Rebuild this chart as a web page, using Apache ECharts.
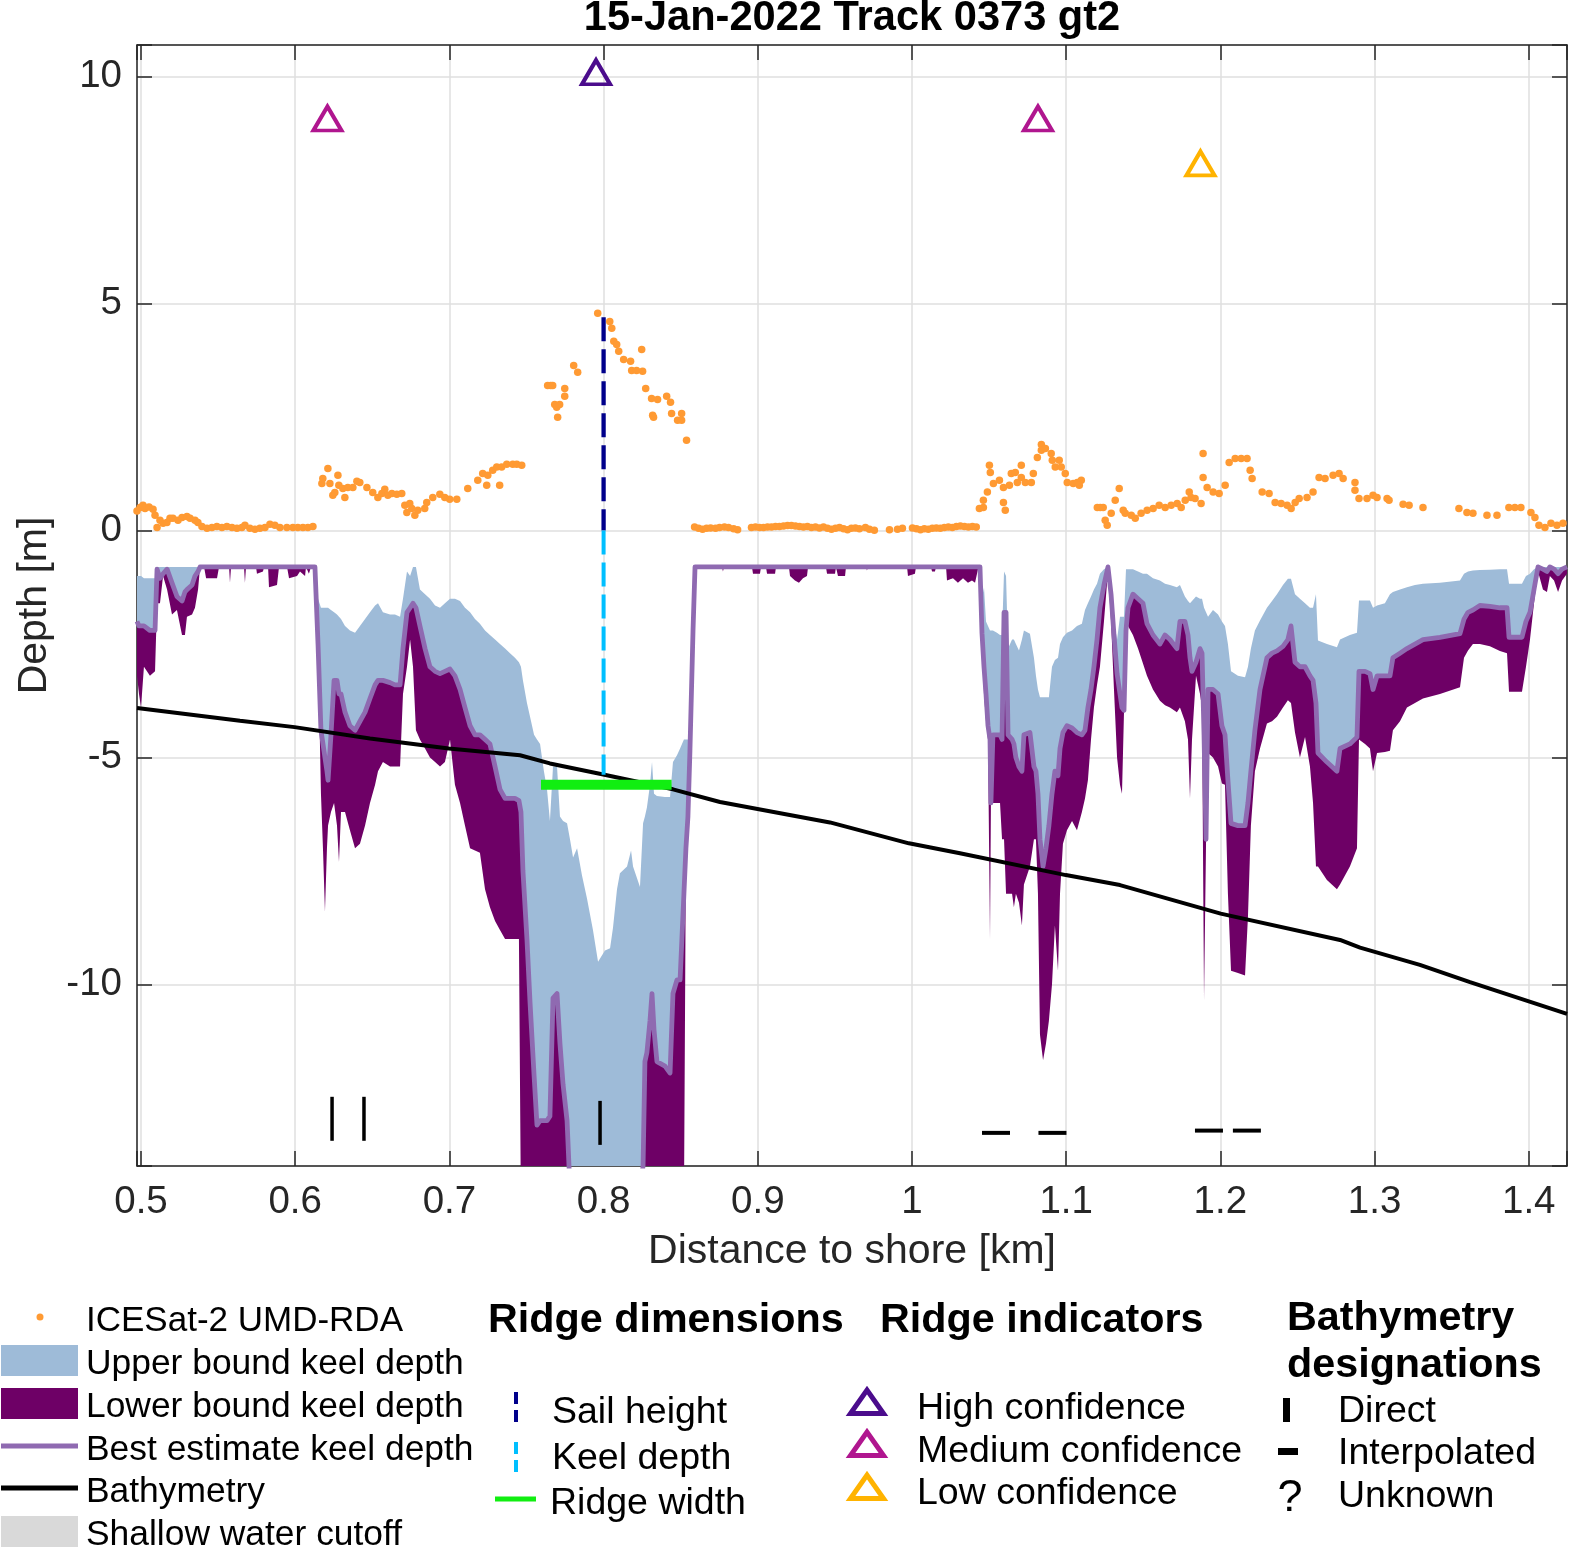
<!DOCTYPE html>
<html><head><meta charset="utf-8">
<script src="https://cdn.jsdelivr.net/npm/echarts/dist/echarts.min.js"></script>
<style>html,body{margin:0;padding:0;background:#fff}#c{width:1573px;height:1548px}</style>
</head><body><div id="c"></div>
<script>
// ---------------- DATA ----------------
const chartTitle = '15-Jan-2022 Track 0373 gt2';
const xRange = [0.4974, 1.4248];
const yRange = [-14, 10.7];

// ICESat-2 UMD-RDA surface heights [distance km, height m]
const surfacePoints = [
[0.4974,0.43],[0.4994,0.51],[0.5013,0.56],[0.5026,0.49],[0.5052,0.52],[0.5078,0.47],[0.5091,0.34],[0.5104,0.07],[0.5123,0.23],[0.5143,0.16],
[0.5168,0.18],[0.5188,0.27],[0.5207,0.27],[0.5240,0.23],[0.5266,0.29],[0.5298,0.31],[0.5318,0.27],[0.5350,0.23],[0.5369,0.18],[0.5395,0.09],
[0.5428,0.05],[0.5460,0.07],[0.5492,0.09],[0.5525,0.07],[0.5557,0.09],[0.5590,0.07],[0.5622,0.05],[0.5654,0.07],[0.5674,0.12],[0.5706,0.05],
[0.5739,0.03],[0.5771,0.05],[0.5804,0.07],[0.5836,0.14],[0.5868,0.12],[0.5901,0.07],[0.5946,0.07],[0.5985,0.07],[0.6017,0.07],[0.6050,0.07],
[0.6082,0.07],[0.6115,0.09],
[0.6173,1.04],[0.6179,1.15],[0.6212,1.37],[0.6225,1.04],[0.6244,0.78],[0.6257,0.84],[0.6277,1.22],[0.6283,1.00],[0.6309,0.93],[0.6322,0.73],
[0.6341,0.95],[0.6374,0.95],[0.6400,1.09],[0.6419,1.06],[0.6465,0.95],[0.6503,0.84],[0.6536,0.73],[0.6562,0.82],[0.6581,0.91],[0.6601,0.78],
[0.6627,0.82],[0.6659,0.80],[0.6691,0.82],[0.6711,0.56],[0.6724,0.40],[0.6743,0.60],[0.6756,0.49],[0.6776,0.34],[0.6795,0.45],[0.6840,0.49],
[0.6853,0.62],[0.6892,0.73],[0.6938,0.80],[0.6970,0.73],[0.7002,0.69],[0.7048,0.69],[0.7119,0.93],[0.7184,1.11],[0.7216,1.26],[0.7242,1.00],
[0.7249,1.22],[0.7281,1.33],[0.7307,1.40],[0.7326,1.00],[0.7339,1.40],[0.7372,1.46],[0.7411,1.46],[0.7437,1.46],[0.7469,1.44],
[0.7637,3.20],[0.7657,3.20],[0.7670,3.20],[0.7683,2.78],[0.7696,2.72],[0.7702,2.50],[0.7715,2.78],[0.7748,3.13],[0.7748,2.96],[0.7806,3.64],
[0.7832,3.49],[0.7962,4.79],[0.8040,4.61],[0.8053,4.46],[0.8066,4.17],[0.8085,4.10],[0.8098,3.95],[0.8130,3.77],[0.8175,3.73],[0.8182,3.53],
[0.8214,3.53],[0.8247,3.99],[0.8253,3.51],[0.8273,3.13],[0.8311,2.91],[0.8318,2.54],[0.8324,2.50],[0.8350,2.89],[0.8409,2.96],[0.8434,2.83],
[0.8441,2.58],[0.8480,2.43],[0.8506,2.58],[0.8506,2.43],[0.8538,1.99],
[0.8590,0.08],[0.8616,0.05],[0.8642,0.03],[0.8668,0.05],[0.8694,0.06],[0.8726,0.05],[0.8752,0.07],[0.8784,0.08],[0.8810,0.07],[0.8843,0.04],
[0.8869,0.02],[0.8959,0.07],[0.8985,0.08],[0.9011,0.07],[0.9037,0.07],[0.9063,0.08],[0.9089,0.08],[0.9115,0.09],[0.9141,0.09],[0.9167,0.10],
[0.9193,0.11],[0.9218,0.11],[0.9244,0.10],[0.9270,0.09],[0.9296,0.08],[0.9322,0.09],[0.9348,0.07],[0.9374,0.08],[0.9400,0.06],[0.9426,0.08],
[0.9452,0.05],[0.9478,0.03],[0.9504,0.05],[0.9530,0.07],[0.9556,0.04],[0.9582,0.02],[0.9607,0.05],[0.9633,0.06],[0.9659,0.04],[0.9698,0.07],
[0.9724,0.03],[0.9756,0.01],[0.9854,0.02],[0.9906,0.03],[0.9938,0.05],[1.0003,0.06],[1.0029,0.04],[1.0055,0.02],[1.0080,0.04],[1.0106,0.03],
[1.0132,0.05],[1.0158,0.06],[1.0184,0.05],[1.0210,0.07],[1.0236,0.08],[1.0262,0.07],[1.0288,0.09],[1.0314,0.10],[1.0340,0.09],[1.0366,0.08],
[1.0392,0.09],[1.0417,0.08],
[1.0437,0.49],[1.0463,0.51],[1.0463,0.67],[1.0489,0.85],[1.0502,1.44],[1.0508,1.28],[1.0528,1.04],[1.0567,1.11],[1.0593,0.62],[1.0605,0.45],
[1.0593,0.95],[1.0632,1.00],[1.0644,1.26],[1.0670,1.28],[1.0683,1.06],[1.0709,1.44],[1.0709,1.17],[1.0735,1.06],[1.0774,1.06],[1.0787,1.26],
[1.0813,1.61],[1.0839,1.90],[1.0839,1.77],[1.0865,1.81],[1.0903,1.70],[1.0910,1.55],[1.0929,1.40],[1.0955,1.55],[1.0968,1.40],[1.0994,1.26],
[1.1007,1.06],[1.1046,1.04],[1.1072,1.06],[1.1098,1.11],[1.1085,1.00],
[1.1202,0.51],[1.1221,0.51],[1.1240,0.51],[1.1253,0.23],[1.1266,0.12],[1.1292,0.38],[1.1318,0.67],[1.1344,0.93],[1.1370,0.45],[1.1383,0.38],
[1.1422,0.34],[1.1448,0.27],[1.1486,0.38],[1.1525,0.45],[1.1564,0.49],[1.1603,0.56],[1.1642,0.51],[1.1681,0.56],[1.1720,0.60],[1.1746,0.51],
[1.1772,0.67],[1.1798,0.85],[1.1810,0.73],[1.1836,0.71],[1.1875,0.60],[1.1888,1.17],[1.1888,1.70],[1.1914,0.95],[1.1953,0.85],[1.1992,0.82],
[1.2031,1.00],[1.2057,1.50],[1.2096,1.59],[1.2135,1.59],[1.2173,1.59],[1.2193,1.33],[1.2206,1.15],[1.2271,0.85],[1.2316,0.82],[1.2355,0.62],
[1.2394,0.60],[1.2433,0.56],[1.2459,0.49],[1.2485,0.62],[1.2511,0.71],[1.2562,0.73],[1.2601,0.85],[1.2640,1.17],[1.2679,1.15],[1.2731,1.22],
[1.2770,1.26],[1.2796,1.15],[1.2873,1.06],[1.2873,0.89],[1.2899,0.71],[1.2951,0.71],[1.2990,0.78],[1.3016,0.73],[1.3081,0.71],[1.3094,0.67],
[1.3185,0.58],[1.3224,0.56],[1.3314,0.51],[1.3547,0.49],[1.3599,0.40],[1.3638,0.38],[1.3729,0.34],[1.3794,0.34],[1.3871,0.51],[1.3910,0.51],
[1.3949,0.51],[1.4014,0.40],[1.4040,0.29],[1.4066,0.12],[1.4105,0.07],[1.4144,0.16],[1.4183,0.12],[1.4222,0.16]
];

// Keel depth profile: [distance km, upper bound (shallow edge), best estimate, lower bound (deep edge)] in m
const keelProfile = [
[0.4974,-1.0,-2.0,-3.2],[0.4987,-1.0,-2.1,-3.6],[0.5000,-1.0,-2.1,-3.9],[0.5019,-1.05,-2.1,-3.0],[0.5058,-1.05,-2.2,-3.2],
[0.5091,-1.05,-2.2,-3.1],[0.5104,-0.8,-0.85,-1.6],[0.5123,-0.8,-1.05,-1.6],[0.5143,-0.8,-0.95,-1.0],[0.5169,-0.8,-0.85,-1.3],
[0.5201,-0.8,-1.15,-1.85],[0.5233,-0.8,-1.45,-1.75],[0.5266,-0.8,-1.55,-2.3],[0.5285,-0.8,-1.35,-2.3],[0.5298,-0.8,-1.3,-1.9],
[0.5331,-0.8,-1.2,-1.85],[0.5350,-0.8,-1.0,-1.7],[0.5370,-0.8,-0.9,-1.3],[0.5383,-0.8,-0.8,-0.8],[0.5409,-0.8,-0.8,-0.8],
[0.5422,-0.8,-0.8,-1.05],[0.5493,-0.8,-0.8,-1.05],[0.5506,-0.8,-0.8,-0.8],[0.5571,-0.8,-0.8,-0.8],[0.5577,-0.8,-0.8,-1.15],
[0.5584,-0.8,-0.8,-0.8],[0.5668,-0.8,-0.8,-0.8],[0.5674,-0.8,-0.8,-1.15],[0.5681,-0.8,-0.8,-0.8],[0.5746,-0.8,-0.8,-0.8],
[0.5752,-0.8,-0.8,-0.95],[0.5791,-0.8,-0.8,-0.9],[0.5798,-0.8,-0.8,-0.8],[0.5824,-0.8,-0.8,-0.8],[0.5830,-0.8,-0.8,-1.25],
[0.5882,-0.8,-0.8,-1.2],[0.5895,-0.8,-0.8,-0.8],[0.5947,-0.8,-0.8,-0.8],[0.5960,-0.8,-0.8,-1.05],[0.6012,-0.8,-0.8,-1.0],
[0.6031,-0.8,-0.8,-0.9],[0.6064,-0.8,-0.8,-1.0],[0.6070,-0.8,-0.8,-0.8],[0.6089,-0.8,-0.8,-0.95],[0.6102,-0.8,-0.8,-0.8],
[0.6128,-0.8,-0.8,-0.8],
[0.6148,-1.5,-2.5,-2.6],[0.6167,-1.7,-4.4,-5.8],[0.6180,-1.7,-4.7,-7.0],[0.6193,-1.7,-5.0,-8.4],[0.6206,-1.7,-5.3,-7.0],
[0.6213,-1.7,-5.5,-6.5],[0.6232,-1.75,-4.5,-6.2],[0.6252,-1.8,-3.3,-6.0],[0.6271,-1.85,-3.3,-6.5],[0.6284,-1.9,-3.6,-7.3],
[0.6297,-1.95,-3.6,-6.2],[0.6323,-2.1,-4.0,-6.2],[0.6355,-2.2,-4.3,-6.6],[0.6388,-2.25,-4.4,-7.0],[0.6420,-2.1,-4.2,-6.9],
[0.6453,-1.95,-4.0,-6.5],[0.6485,-1.8,-3.7,-6.0],[0.6518,-1.65,-3.4,-5.6],[0.6537,-1.6,-3.3,-5.3],[0.6569,-1.8,-3.3,-5.1],
[0.6615,-1.85,-3.35,-5.2],[0.6647,-1.85,-3.4,-5.2],[0.6680,-1.9,-3.4,-5.2],[0.6699,-1.5,-2.6,-3.6],[0.6725,-0.9,-1.8,-3.0],
[0.6745,-1.0,-1.7,-2.4],[0.6764,-0.8,-1.6,-3.0],[0.6783,-0.8,-1.7,-4.4],[0.6809,-1.3,-2.1,-4.6],[0.6842,-1.4,-2.6,-4.8],
[0.6874,-1.5,-3.0,-5.0],[0.6907,-1.65,-3.1,-5.1],[0.6939,-1.7,-3.15,-5.2],[0.6971,-1.6,-3.1,-5.1],[0.7004,-1.5,-3.05,-4.6],
[0.7036,-1.5,-3.2,-5.6],[0.7069,-1.55,-3.5,-6.0],[0.7101,-1.7,-3.9,-6.5],[0.7134,-1.8,-4.3,-7.0],[0.7166,-1.95,-4.5,-7.05],
[0.7198,-2.05,-4.5,-7.1],[0.7231,-2.2,-4.6,-7.9],[0.7263,-2.3,-4.7,-8.3],[0.7296,-2.4,-5.2,-8.6],[0.7328,-2.5,-5.7,-8.8],
[0.7361,-2.6,-5.9,-9.0],[0.7393,-2.7,-5.9,-9.0],[0.7425,-2.8,-5.9,-9.0],[0.7451,-2.9,-5.95,-9.0],[0.7464,-3.0,-6.2,-15],
[0.7477,-3.3,-7.5,-15],[0.7503,-3.8,-9.0,-15],[0.7523,-4.1,-10.4,-15],[0.7549,-4.5,-12.0,-15],[0.7568,-4.6,-13.1,-15],
[0.7588,-4.7,-13.0,-15],[0.7613,-5.3,-13.0,-15],[0.7633,-5.7,-13.0,-15],[0.7652,-6.4,-12.9,-15],[0.7672,-5.2,-10.3,-15],
[0.7698,-5.2,-10.2,-15],[0.7717,-6.3,-11.3,-15],[0.7737,-6.4,-12.2,-15],[0.7763,-6.45,-13.0,-15],[0.7782,-6.8,-14.5,-15],
[0.7802,-7.2,-14.5,-15],[0.7828,-7.0,-14.5,-15],[0.7860,-7.6,-14.5,-15],[0.7892,-8.1,-14.5,-15],[0.7931,-8.8,-14.5,-15],
[0.7964,-9.5,-14.5,-15],[0.8009,-9.25,-14.5,-15],[0.8042,-9.2,-14.5,-15],[0.8061,-8.75,-14.5,-15],[0.8087,-7.9,-14.5,-15],
[0.8106,-7.55,-14.5,-15],[0.8152,-7.4,-14.5,-15],[0.8178,-7.05,-14.5,-15],[0.8191,-7.4,-14.5,-15],[0.8236,-7.85,-14.5,-15],
[0.8256,-6.45,-14.0,-15],[0.8268,-6.3,-11.7,-15],[0.8281,-6.1,-11.5,-15],[0.8301,-5.6,-10.8,-15],[0.8314,-5.1,-10.2,-15],
[0.8327,-5.8,-11.0,-15],[0.8346,-5.85,-11.7,-15],[0.8398,-5.87,-11.8,-15],[0.8431,-5.87,-11.95,-15],[0.8450,-5.1,-10.2,-15],
[0.8476,-4.95,-9.9,-15],[0.8496,-4.8,-9.9,-15],[0.8521,-4.6,-8.0,-15],[0.8534,-4.6,-7.0,-7.0],[0.8547,-4.6,-6.3,-6.3],
[0.8560,-4.6,-4.85,-4.85],[0.8580,-2.2,-2.2,-2.2],[0.8593,-0.8,-0.8,-0.8],
[0.8768,-0.8,-0.8,-0.8],[0.8774,-0.8,-0.8,-0.9],[0.8781,-0.8,-0.8,-0.8],[0.8962,-0.8,-0.8,-0.8],[0.8969,-0.8,-0.8,-0.95],
[0.9014,-0.8,-0.8,-0.95],[0.9021,-0.8,-0.8,-0.8],[0.9053,-0.8,-0.8,-0.8],[0.9060,-0.8,-0.8,-0.95],[0.9112,-0.8,-0.8,-0.95],
[0.9118,-0.8,-0.8,-0.8],[0.9202,-0.8,-0.8,-0.8],[0.9209,-0.8,-0.8,-1.0],[0.9241,-0.8,-0.8,-1.1],[0.9267,-0.8,-0.8,-1.15],
[0.9293,-0.8,-0.8,-1.05],[0.9319,-0.8,-0.8,-1.0],[0.9326,-0.8,-0.8,-0.8],[0.9442,-0.8,-0.8,-0.8],[0.9449,-0.8,-0.8,-0.95],
[0.9501,-0.8,-0.8,-0.95],[0.9507,-0.8,-0.8,-0.8],[0.9520,-0.8,-0.8,-1.0],[0.9566,-0.8,-0.8,-1.0],[0.9572,-0.8,-0.8,-0.8],
[0.9702,-0.8,-0.8,-0.8],[0.9708,-0.8,-0.8,-0.88],[0.9715,-0.8,-0.8,-0.8],[0.9968,-0.8,-0.8,-0.8],[0.9974,-0.8,-0.8,-1.0],
[1.0019,-0.8,-0.8,-0.95],[1.0026,-0.8,-0.8,-0.8],[1.0123,-0.8,-0.8,-0.8],[1.0130,-0.8,-0.8,-0.9],[1.0149,-0.8,-0.8,-0.9],
[1.0156,-0.8,-0.8,-0.8],[1.0221,-0.8,-0.8,-0.8],[1.0227,-0.8,-0.8,-1.1],[1.0266,-0.8,-0.8,-1.05],[1.0298,-0.8,-0.8,-1.15],
[1.0331,-0.8,-0.8,-1.05],[1.0363,-0.8,-0.8,-1.15],[1.0389,-0.8,-0.8,-1.1],[1.0409,-0.8,-0.8,-1.15],[1.0428,-0.8,-0.8,-0.85],
[1.0441,-0.8,-0.8,-0.8],
[1.0454,-1.5,-2.26,-2.3],[1.0467,-1.25,-3.0,-3.6],[1.0480,-2.0,-3.6,-4.2],[1.0493,-2.1,-4.3,-4.6],[1.0506,-2.2,-4.6,-9.0],
[1.0512,-2.2,-6.0,-6.0],[1.0525,-2.2,-4.5,-6.0],[1.0551,-2.25,-4.5,-6.0],[1.0571,-2.3,-4.5,-6.0],[1.0584,-2.3,-4.6,-6.8],
[1.0597,-0.9,-1.8,-6.8],[1.0610,-1.0,-1.8,-8.0],[1.0623,-2.6,-4.5,-8.0],[1.0649,-2.4,-4.6,-8.0],[1.0661,-2.4,-4.7,-8.3],
[1.0674,-2.5,-5.0,-8.0],[1.0694,-2.64,-5.2,-8.2],[1.0713,-2.4,-5.3,-8.7],[1.0726,-2.2,-4.5,-7.8],[1.0765,-2.27,-4.45,-7.4],
[1.0791,-2.8,-5.2,-6.8],[1.0804,-3.2,-5.3,-6.8],[1.0817,-3.5,-5.8,-8.0],[1.0830,-3.67,-6.8,-11.1],[1.0850,-3.67,-7.4,-11.67],
[1.0869,-3.67,-7.0,-11.3],[1.0888,-3.67,-6.5,-10.8],[1.0908,-3.0,-5.8,-10.0],[1.0927,-2.85,-5.3,-8.7],[1.0947,-2.8,-5.4,-9.7],
[1.0960,-2.5,-4.8,-8.0],[1.0979,-2.35,-4.45,-6.9],[1.1005,-2.25,-4.3,-6.6],[1.1038,-2.2,-4.35,-6.4],[1.1070,-2.1,-4.45,-6.6],
[1.1102,-2.05,-4.5,-6.2],[1.1122,-1.75,-4.4,-5.9],[1.1141,-1.6,-3.9,-5.5],[1.1161,-1.45,-3.5,-4.6],[1.1180,-1.3,-3.0,-3.9],
[1.1200,-1.17,-2.4,-3.4],[1.1219,-0.95,-1.7,-3.0],[1.1245,-0.85,-1.2,-2.0],[1.1271,-0.8,-0.8,-0.9],[1.1291,-1.3,-1.4,-2.0],
[1.1310,-2.0,-2.3,-3.5],[1.1330,-2.4,-3.15,-5.0],[1.1349,-1.9,-3.6,-5.6],[1.1362,-1.9,-3.9,-5.8],[1.1375,-1.9,-3.96,-4.0],
[1.1388,-0.85,-2.2,-2.3],[1.1401,-0.85,-1.7,-2.1],[1.1433,-0.85,-1.4,-2.3],[1.1466,-0.9,-1.5,-2.6],[1.1498,-0.95,-1.6,-2.93],
[1.1524,-0.95,-2.05,-3.2],[1.1563,-1.05,-2.3,-3.5],[1.1608,-1.1,-2.5,-3.75],[1.1641,-1.17,-2.3,-3.85],[1.1673,-1.2,-2.4,-3.9],
[1.1718,-1.25,-2.6,-4.0],[1.1738,-1.2,-2.0,-3.9],[1.1770,-1.45,-2.0,-4.2],[1.1790,-1.55,-2.3,-4.6],[1.1803,-1.6,-2.8,-5.9],
[1.1816,-1.55,-3.1,-4.6],[1.1842,-1.45,-2.9,-3.2],[1.1868,-1.5,-2.6,-3.6],[1.1881,-1.5,-2.7,-3.9],[1.1894,-1.7,-4.5,-10.35],
[1.1907,-1.8,-6.8,-6.9],[1.1920,-1.9,-3.5,-4.9],[1.1952,-1.75,-3.5,-5.0],[1.1985,-1.85,-3.6,-5.2],[1.2010,-2.0,-4.3,-5.57],
[1.2030,-2.1,-4.5,-5.6],[1.2049,-2.5,-5.5,-8.0],[1.2069,-3.1,-6.45,-9.7],[1.2114,-3.2,-6.5,-9.75],[1.2160,-3.23,-6.5,-9.8],
[1.2179,-3.0,-6.0,-8.5],[1.2198,-2.6,-5.3,-6.5],[1.2224,-2.2,-4.4,-5.3],[1.2257,-1.98,-3.5,-4.8],[1.2302,-1.7,-2.8,-4.25],
[1.2335,-1.55,-2.7,-4.2],[1.2367,-1.4,-2.65,-4.1],[1.2406,-1.2,-2.55,-3.9],[1.2438,-1.06,-2.4,-3.74],[1.2458,-1.06,-2.1,-3.8],
[1.2484,-1.4,-2.9,-4.45],[1.2516,-1.5,-3.0,-5.0],[1.2549,-1.6,-3.0,-4.55],[1.2581,-1.7,-3.2,-5.2],[1.2601,-1.7,-3.3,-6.0],
[1.2620,-1.4,-3.8,-7.4],[1.2633,-2.42,-4.9,-7.4],[1.2691,-2.5,-5.1,-7.7],[1.2756,-2.57,-5.3,-7.9],[1.2776,-2.4,-4.8,-7.8],
[1.2840,-2.3,-4.7,-7.4],[1.2886,-2.25,-4.55,-7.0],[1.2899,-1.54,-3.1,-4.6],[1.2938,-1.54,-3.1,-4.7],[1.2970,-1.54,-3.15,-4.8],
[1.2990,-1.7,-3.5,-5.3],[1.3016,-1.65,-3.2,-4.9],[1.3067,-1.6,-3.2,-4.88],[1.3100,-1.4,-3.2,-4.85],[1.3119,-1.35,-2.8,-4.4],
[1.3165,-1.3,-2.7,-4.2],[1.3210,-1.25,-2.6,-3.9],[1.3262,-1.2,-2.5,-3.8],[1.3314,-1.17,-2.4,-3.7],[1.3424,-1.15,-2.35,-3.6],
[1.3554,-1.1,-2.27,-3.45],[1.3580,-0.95,-1.95,-2.8],[1.3606,-0.9,-1.8,-2.64],[1.3638,-0.88,-1.75,-2.5],[1.3683,-0.87,-1.65,-2.5],
[1.3748,-0.86,-1.67,-2.55],[1.3813,-0.85,-1.7,-2.65],[1.3859,-0.85,-1.7,-2.7],[1.3872,-1.17,-2.35,-3.55],[1.3917,-1.17,-2.35,-3.55],
[1.3956,-1.17,-2.35,-3.55],[1.3982,-1.0,-2.0,-3.0],[1.4008,-0.95,-1.8,-2.4],[1.4034,-0.85,-1.3,-1.6],[1.4060,-0.8,-0.8,-0.9],
[1.4092,-0.8,-0.85,-1.3],[1.4118,-0.8,-0.9,-1.35],[1.4137,-0.8,-0.8,-1.0],[1.4164,-0.8,-0.85,-1.1],[1.4190,-0.8,-0.95,-1.35],
[1.4216,-0.8,-0.85,-1.1],[1.4248,-0.8,-0.8,-0.95]
];

// Bathymetry [distance km, depth m]
const bathymetry = [
[0.4974,-3.91],[0.5642,-4.19],[0.5996,-4.33],[0.6485,-4.58],[0.6996,-4.80],[0.7458,-4.95],[0.7652,-5.13],[0.7990,-5.37],
[0.8450,-5.70],[0.8755,-5.98],[0.9468,-6.43],[0.9980,-6.89],[1.0311,-7.11],[1.0998,-7.59],[1.1349,-7.81],[1.2002,-8.44],
[1.2776,-9.02],[1.2906,-9.19],[1.3294,-9.57],[1.3619,-9.95],[1.4248,-10.65]
];

// Ridge dimensions
const sailHeightLine = [[0.8, 4.70], [0.8, 0]];
const keelDepthLine = [[0.8, 0], [0.8, -5.38]];
const ridgeWidthLine = [[0.7594, -5.6], [0.8441, -5.6]];

// Ridge indicators
const highConfidence = [[0.7951, 10.1]];
const mediumConfidence = [[0.6209, 9.08], [1.0817, 9.08]];
const lowConfidence = [[1.1871, 8.09]];

// Bathymetry designations
const bathyDirect = [[0.6239, -12.96], [0.6446, -12.96], [0.7977, -13.05]];
const bathyInterpolated = [[1.0545, -13.27], [1.0911, -13.27], [1.1926, -13.22], [1.2172, -13.22]];

// ---------------- CHART ----------------
const FONT = '"Liberation Sans", Arial, Helvetica, sans-serif';
const AX = '#262626';
const C_UPPER = '#9EBBD8', C_LOWER = '#6E0066', C_BEST = '#8F6AB1', C_DOT = '#FF9A33';
const C_HIGH = '#4B0C8C', C_MED = '#B0168F', C_LOW = '#FFB300';

function bandSeries(name, topIdx, botIdx, color) {
  return {
    type: 'custom', name: name, silent: true, clip: true, z: 2,
    data: [[keelProfile[0][0], keelProfile[0][topIdx]]],
    renderItem: function (params, api) {
      const pts = [];
      for (let i = 0; i < keelProfile.length; i++) pts.push(api.coord([keelProfile[i][0], keelProfile[i][topIdx]]));
      for (let i = keelProfile.length - 1; i >= 0; i--) pts.push(api.coord([keelProfile[i][0], keelProfile[i][botIdx]]));
      const cs = params.coordSys;
      return {
        type: 'group',
        clipPath: { type: 'rect', shape: { x: cs.x, y: cs.y, width: cs.width, height: cs.height } },
        children: [{ type: 'polygon', shape: { points: pts }, style: { fill: color, stroke: null, lineWidth: 0 } }]
      };
    }
  };
}

function fmtTick(step) {
  return function (v) {
    const r = Math.round(v / step) * step;
    if (Math.abs(v - r) > 1e-6) return '';
    return String(parseFloat(r.toFixed(2)));
  };
}

function baseX(pos, show) {
  return {
    type: 'value', position: pos, min: xRange[0], max: xRange[1],
    splitNumber: 9, minInterval: 0.1, maxInterval: 0.1,
    axisLine: { show: true, onZero: false, lineStyle: { color: AX, width: 1.5 } },
    axisTick: { show: true, inside: true, length: 15, lineStyle: { color: AX, width: 1.5 } },
    axisLabel: { show: show, fontSize: 38.5, color: AX, fontFamily: FONT, margin: 17, formatter: fmtTick(0.1) },
    splitLine: { show: show, lineStyle: { color: '#dfdfdf', width: 1.5 } }
  };
}
function baseY(pos, show) {
  return {
    type: 'value', position: pos, min: yRange[0], max: yRange[1],
    splitNumber: 5, minInterval: 5, maxInterval: 5,
    axisLine: { show: true, onZero: false, lineStyle: { color: AX, width: 1.5 } },
    axisTick: { show: true, inside: true, length: 15, lineStyle: { color: AX, width: 1.5 } },
    axisLabel: { show: show, fontSize: 38.5, color: AX, fontFamily: FONT, margin: 15, formatter: fmtTick(5) },
    splitLine: { show: show, lineStyle: { color: '#dfdfdf', width: 1.5 } }
  };
}

const xBottom = Object.assign(baseX('bottom', true), {
  name: 'Distance to shore [km]', nameLocation: 'middle', nameGap: 65,
  nameTextStyle: { fontSize: 41, color: AX, fontFamily: FONT }
});
const yLeft = Object.assign(baseY('left', true), {
  name: 'Depth [m]', nameLocation: 'middle', nameGap: 79,
  nameTextStyle: { fontSize: 41, color: AX, fontFamily: FONT }
});

function txt(x, y, s, size, bold, align) {
  return { type: 'text', x: x, y: y, silent: true, z: 100,
    style: { text: s, fill: '#000', fontSize: size, fontFamily: FONT, fontWeight: bold ? 'bold' : 'normal',
      align: align || 'left', textAlign: align || 'left', verticalAlign: 'middle', textVerticalAlign: 'middle' } };
}
function tri(cx, cy, color) {
  return { type: 'polygon', silent: true, z: 100,
    shape: { points: [[cx - 16.5, cy + 11.5], [cx + 16.5, cy + 11.5], [cx, cy - 12]] },
    style: { fill: 'none', stroke: color, lineWidth: 5, lineJoin: 'miter' } };
}

const LEG = 37.5;
const graphics = [
  txt(852, 19, chartTitle, 41.6, true, 'center'),
  // column 1
  { type: 'circle', shape: { cx: 40, cy: 1317, r: 3.5 }, style: { fill: C_DOT }, silent: true },
  { type: 'rect', shape: { x: 1, y: 1345, width: 77, height: 31 }, style: { fill: C_UPPER }, silent: true },
  { type: 'rect', shape: { x: 1, y: 1388, width: 77, height: 31 }, style: { fill: C_LOWER }, silent: true },
  { type: 'line', shape: { x1: 1, y1: 1446, x2: 78, y2: 1446 }, style: { stroke: C_BEST, lineWidth: 5 }, silent: true },
  { type: 'line', shape: { x1: 1, y1: 1488, x2: 78, y2: 1488 }, style: { stroke: '#000', lineWidth: 5 }, silent: true },
  { type: 'rect', shape: { x: 1, y: 1516, width: 77, height: 31 }, style: { fill: '#D9D9D9' }, silent: true },
  txt(86, 1321, 'ICESat-2 UMD-RDA', 35),
  txt(86, 1364, 'Upper bound keel depth', 35.4),
  txt(86, 1407, 'Lower bound keel depth', 35.4),
  txt(86, 1450, 'Best estimate keel depth', 35.4),
  txt(86, 1492, 'Bathymetry', 35.4),
  txt(86, 1535, 'Shallow water cutoff', 35.4),
  // column 2
  txt(488, 1321, 'Ridge dimensions', 41.3, true),
  { type: 'line', shape: { x1: 516, y1: 1392, x2: 516, y2: 1424 }, style: { stroke: '#00008B', lineWidth: 4, lineDash: [12, 6] }, silent: true },
  { type: 'line', shape: { x1: 516, y1: 1442, x2: 516, y2: 1474 }, style: { stroke: '#00BFFF', lineWidth: 4, lineDash: [12, 6] }, silent: true },
  { type: 'line', shape: { x1: 495, y1: 1499, x2: 536, y2: 1499 }, style: { stroke: '#11EE11', lineWidth: 5 }, silent: true },
  txt(552, 1413, 'Sail height', LEG),
  txt(552, 1459, 'Keel depth', LEG),
  txt(550, 1504, 'Ridge width', LEG),
  // column 3
  txt(880, 1321, 'Ridge indicators', 41.3, true),
  tri(867, 1402, C_HIGH),
  tri(867, 1444, C_MED),
  tri(867, 1487, C_LOW),
  txt(917, 1409, 'High confidence', LEG),
  txt(917, 1452, 'Medium confidence', LEG),
  txt(917, 1494, 'Low confidence', LEG),
  // column 4
  txt(1287, 1319, 'Bathymetry', 41.3, true),
  txt(1287, 1366, 'designations', 41.3, true),
  { type: 'rect', shape: { x: 1283, y: 1398, width: 7, height: 24 }, style: { fill: '#000' }, silent: true },
  { type: 'rect', shape: { x: 1278, y: 1448, width: 20, height: 7 }, style: { fill: '#000' }, silent: true },
  txt(1290, 1499, '?', 45, false, 'center'),
  txt(1338, 1412, 'Direct', LEG),
  txt(1338, 1454, 'Interpolated', LEG),
  txt(1338, 1497, 'Unknown', LEG)
];

const option = {
  animation: false,
  backgroundColor: '#fff',
  grid: { left: 137, top: 45, right: 6, bottom: 382, containLabel: false, outerBoundsMode: 'none' },
  xAxis: [xBottom, baseX('top', false)],
  yAxis: [yLeft, baseY('right', false)],
  graphic: { elements: graphics },
  series: [
    bandSeries('Upper bound keel depth', 1, 2, C_UPPER),
    bandSeries('Lower bound keel depth', 2, 3, C_LOWER),
    { type: 'line', name: 'Best estimate keel depth', data: keelProfile.map(r => [r[0], r[2]]), showSymbol: false,
      symbol: 'none', clip: true, z: 3, silent: true,
      lineStyle: { color: C_BEST, width: 4.8, join: 'round' } },
    { type: 'line', name: 'Bathymetry', data: bathymetry, showSymbol: false, symbol: 'none', z: 4, silent: true,
      lineStyle: { color: '#000', width: 4 } },
    { type: 'line', name: 'Sail height', data: sailHeightLine, showSymbol: false, symbol: 'none', z: 5, silent: true,
      lineStyle: { color: '#00008B', width: 4.3, type: [24, 8], cap: 'butt' } },
    { type: 'line', name: 'Keel depth', data: keelDepthLine, showSymbol: false, symbol: 'none', z: 5, silent: true,
      lineStyle: { color: '#00BFFF', width: 4, type: [24, 8], cap: 'butt' } },
    { type: 'line', name: 'Ridge width', data: ridgeWidthLine, showSymbol: false, symbol: 'none', z: 6, silent: true,
      lineStyle: { color: '#11EE11', width: 10, cap: 'butt' } },
    { type: 'scatter', name: 'ICESat-2 UMD-RDA', data: surfacePoints, symbol: 'circle', symbolSize: 7.5, z: 6, silent: true,
      itemStyle: { color: C_DOT, opacity: 1 } },
    { type: 'scatter', name: 'High confidence', data: highConfidence, symbol: 'triangle', symbolSize: [28, 24], z: 7, silent: true,
      itemStyle: { color: 'rgba(0,0,0,0)', borderColor: C_HIGH, borderWidth: 4, opacity: 1 } },
    { type: 'scatter', name: 'Medium confidence', data: mediumConfidence, symbol: 'triangle', symbolSize: [28, 24], z: 7, silent: true,
      itemStyle: { color: 'rgba(0,0,0,0)', borderColor: C_MED, borderWidth: 4, opacity: 1 } },
    { type: 'scatter', name: 'Low confidence', data: lowConfidence, symbol: 'triangle', symbolSize: [28, 24], z: 7, silent: true,
      itemStyle: { color: 'rgba(0,0,0,0)', borderColor: C_LOW, borderWidth: 4, opacity: 1 } },
    { type: 'scatter', name: 'Direct', data: bathyDirect, symbol: 'rect', symbolSize: [3.5, 44], z: 7, silent: true,
      itemStyle: { color: '#000', opacity: 1 } },
    { type: 'scatter', name: 'Interpolated', data: bathyInterpolated, symbol: 'rect', symbolSize: [28, 4], z: 7, silent: true,
      itemStyle: { color: '#000', opacity: 1 } }
  ]
};

const chart = echarts.init(document.getElementById('c'), null, { renderer: 'canvas', width: 1573, height: 1548 });
chart.setOption(option);
</script></body></html>
